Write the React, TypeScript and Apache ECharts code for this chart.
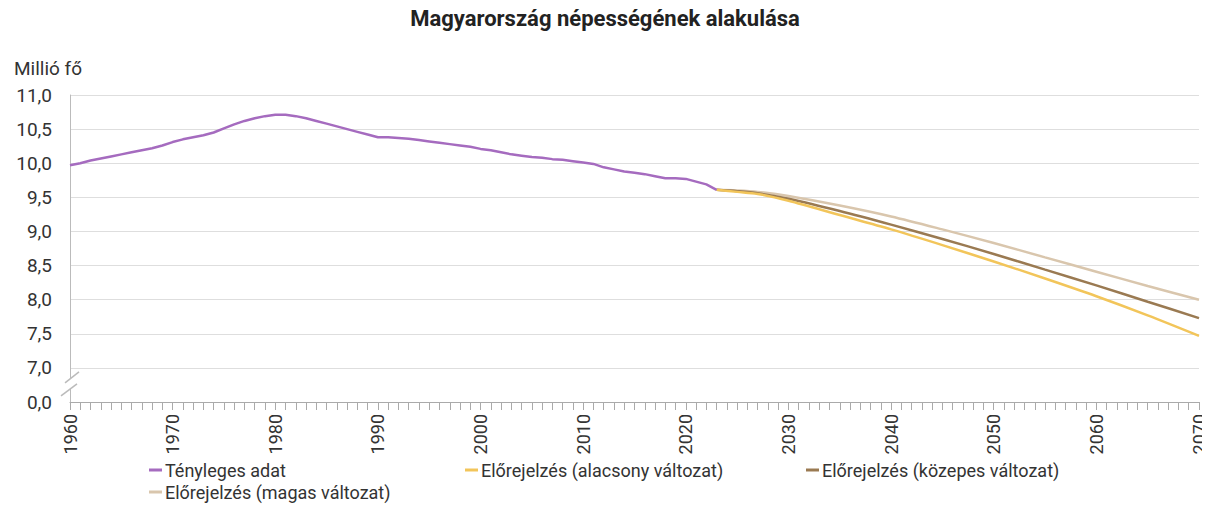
import React, { useEffect, useRef } from "react";
import * as echarts from "echarts";

const TITLE = "Magyarország népességének alakulása";
const UNIT = "Millió fő";

const SERIES_NAMES = [
  "Tényleges adat",
  "Előrejelzés (alacsony változat)",
  "Előrejelzés (közepes változat)",
  "Előrejelzés (magas változat)",
];
const COLORS = ["#a56bbf", "#f2c55a", "#9a7a52", "#d9c6ad"];

const ACTUAL_START = 1960;
const actualValues = [
  9.97, 10.0, 10.04, 10.07, 10.1, 10.13, 10.16, 10.19, 10.22, 10.26,
  10.31, 10.35, 10.38, 10.41, 10.45, 10.51, 10.57, 10.62, 10.66, 10.69,
  10.71, 10.71, 10.69, 10.66, 10.62, 10.58, 10.54, 10.5, 10.46, 10.42,
  10.38, 10.38, 10.37, 10.36, 10.34, 10.32, 10.3, 10.28, 10.26, 10.24,
  10.21, 10.19, 10.16, 10.13, 10.11, 10.09, 10.08, 10.06, 10.05, 10.03,
  10.01, 9.99, 9.94, 9.91, 9.88, 9.86, 9.84, 9.81, 9.78, 9.78,
  9.77, 9.73, 9.69, 9.61,
];

const projYears = [2023, 2025, 2027, 2030, 2035, 2040, 2045, 2050, 2055, 2060, 2065, 2070];
const projLow = [9.61, 9.58, 9.55, 9.45, 9.24, 9.03, 8.8, 8.56, 8.31, 8.05, 7.77, 7.47];
const projMid = [9.61, 9.59, 9.56, 9.48, 9.3, 9.1, 8.89, 8.67, 8.44, 8.21, 7.97, 7.73];
const projHigh = [9.61, 9.6, 9.58, 9.52, 9.38, 9.22, 9.03, 8.83, 8.62, 8.41, 8.2, 8.0];

const X_MIN = 1960;
const X_MAX = 2070;
const Y_MIN = 6.5; // shown as 0,0 (axis break)
const Y_MAX = 11;
const Y_BREAK_LABEL = "0,0";

const FONT = "Roboto, 'Noto Sans', sans-serif";

export default function App() {
  const ref = useRef<HTMLDivElement>(null);

  useEffect(() => {
    if (!ref.current) return;
    const chart = echarts.init(ref.current, null, { renderer: "svg" });

    const actualData = actualValues.map((v, i) => [ACTUAL_START + i, v]);
    const pair = (arr: number[]) => arr.map((v, i) => [projYears[i], v]);
    const seriesData = [actualData, pair(projLow), pair(projMid), pair(projHigh)];

    const legendPos = [
      { left: 144, top: 456 },
      { left: 460, top: 456 },
      { left: 801, top: 456 },
      { left: 144, top: 478 },
    ];

    chart.setOption({
      animation: false,
      textStyle: { fontFamily: FONT },
      title: [
        {
          text: TITLE,
          left: "center",
          top: 2,
          textStyle: { fontSize: 22, fontWeight: "bold", color: "#222", fontFamily: FONT },
        },
        {
          text: UNIT,
          left: 9,
          top: 54,
          textStyle: { fontSize: 19, fontWeight: "normal", color: "#333", fontFamily: FONT },
        },
      ],
      legend: SERIES_NAMES.map((n, i) => ({
        data: [n],
        left: legendPos[i].left,
        top: legendPos[i].top,
        icon: "rect",
        itemWidth: 13,
        itemHeight: 3,
        textStyle: { fontSize: 18, color: "#333", fontFamily: FONT, padding: [0, 0, 0, -2] },
        selectedMode: false,
      })),
      grid: { left: 70, right: 11, top: 95, bottom: 129, containLabel: false },
      xAxis: {
        type: "value",
        min: X_MIN,
        max: X_MAX,
        interval: 10,
        axisLine: { show: true, lineStyle: { color: "#aaa", width: 1 } },
        axisTick: { show: true, length: 8, lineStyle: { color: "#aaa" } },
        minorTick: { show: true, splitNumber: 10, length: 8, lineStyle: { color: "#aaa" } },
        splitLine: { show: false },
        axisLabel: {
          rotate: 90,
          margin: 12,
          fontSize: 18,
          lineHeight: 16,
          color: "#333",
          fontFamily: FONT,
          formatter: (v: number) => String(v),
        },
      },
      yAxis: {
        type: "value",
        min: Y_MIN,
        max: Y_MAX,
        interval: 0.5,
        axisLine: { show: true, lineStyle: { color: "#bbb" } },
        axisTick: { show: false },
        splitLine: { show: true, lineStyle: { color: "#dedede", width: 1 } },
        axisLabel: {
          margin: 18,
          fontSize: 19,
          color: "#333",
          fontFamily: FONT,
          formatter: (v: number) =>
            Math.abs(v - Y_MIN) < 1e-9 ? Y_BREAK_LABEL : v.toFixed(1).replace(".", ","),
        },
      },
      series: SERIES_NAMES.map((n, i) => ({
        name: n,
        type: "line",
        data: seriesData[i],
        symbol: "none",
        smooth: i === 0 ? false : 0.3,
        lineStyle: { color: COLORS[i], width: 2.5 },
        itemStyle: { color: COLORS[i] },
        z: i === 0 ? 5 : 5 - i,
      })),
    });

    // axis break marks on the y axis, between 0,0 and 7,0
    const x0 = chart.convertToPixel({ xAxisIndex: 0 }, X_MIN) as number;
    const y7 = chart.convertToPixel({ yAxisIndex: 0 }, 7) as number;
    const yb = chart.convertToPixel({ yAxisIndex: 0 }, Y_MIN) as number;
    const mid = (y7 + yb) / 2;
    const s1 = [[x0 - 5, mid - 2], [x0 + 9, mid - 13]];
    const s2 = [[x0 - 9, mid + 11], [x0 + 7, mid - 1]];
    chart.setOption({
      graphic: [
        {
          type: "polygon",
          shape: { points: [s1[0], s1[1], s2[1], s2[0]] },
          style: { fill: "#fff" },
          z: 100,
        },
        {
          type: "line",
          shape: { x1: s1[0][0], y1: s1[0][1], x2: s1[1][0], y2: s1[1][1] },
          style: { stroke: "#bbb", lineWidth: 1.5 },
          z: 101,
        },
        {
          type: "line",
          shape: { x1: s2[0][0], y1: s2[0][1], x2: s2[1][0], y2: s2[1][1] },
          style: { stroke: "#bbb", lineWidth: 1.5 },
          z: 101,
        },
      ],
    });

    return () => chart.dispose();
  }, []);

  return <div ref={ref} style={{ width: 1210, height: 531, margin: -8 }} />;
}
